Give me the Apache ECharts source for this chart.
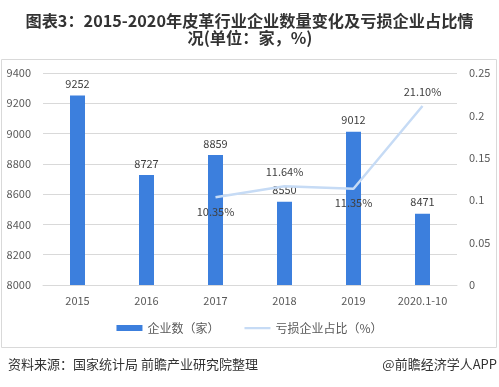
<!DOCTYPE html>
<html><head><meta charset="utf-8">
<script src="https://cdn.jsdelivr.net/npm/echarts@6/dist/echarts.min.js"></script>
<style>html,body{margin:0;padding:0;background:#fff;}#c{width:499px;height:387px;}</style>
</head><body><div id="c"></div>
<script>
const categories = ['2015','2016','2017','2018','2019','2020.1-10'];
const companyCount = [9252, 8727, 8859, 8550, 9012, 8471];
const lossShare = [null, null, 0.1035, 0.1164, 0.1135, 0.2110];
const lossLabels = ['', '', '10.35%', '11.64%', '11.35%', '21.10%'];
const lossLabelPos = ['bottom','bottom','bottom','top','bottom','top'];
const leftTicks = {min: 8000, max: 9400, interval: 200};
const rightTicks = {min: 0, max: 0.25, interval: 0.05};

const chart = echarts.init(document.getElementById('c'));
const font = '"Microsoft YaHei","Noto Sans CJK SC",sans-serif';
chart.setOption({
  animation: false,
  graphic: [
    {type: 'text', x: 249.5, y: 13, style: {text: '图表3：2015-2020年皮革行业企业数量变化及亏损企业占比情', textAlign: 'center', fill: '#333', font: 'bold 16.2px ' + font}},
    {type: 'text', x: 250, y: 30, style: {text: '况(单位：家，%)', textAlign: 'center', fill: '#333', font: 'bold 16.2px ' + font}},
    {type: 'rect', shape: {x: 1.5, y: 59.5, width: 495, height: 288}, style: {fill: 'none', stroke: '#d9d9d9', lineWidth: 1}},
    {type: 'text', left: 8, top: 358, style: {text: '资料来源：国家统计局 前瞻产业研究院整理', fill: '#333', font: '13px ' + font}},
    {type: 'text', right: 2, top: 358, style: {text: '@前瞻经济学人APP', fill: '#333', font: '13px ' + font}}
  ],
  grid: {left: 43, right: 42, top: 73, bottom: 102},
  legend: {
    bottom: 48, left: 'center', itemGap: 25,
    textStyle: {fontSize: 12, color: '#595959', fontFamily: font},
    data: [
      {name: '企业数（家）', icon: 'rect', itemStyle: {color: '#3c7fdd'}},
      {name: '亏损企业占比（%）', icon: 'path://M0,0H26V0.01H0ZM0,2H26V4.2H0ZM0,6H26V5.99H0Z', itemStyle: {color: '#c6dbf5'}}
    ],
    itemWidth: 26, itemHeight: 6
  },
  xAxis: {
    type: 'category', data: categories,
    axisLine: {lineStyle: {color: '#d9d9d9'}},
    axisTick: {show: false},
    axisLabel: {color: '#595959', fontSize: 11, margin: 10, fontFamily: font}
  },
  yAxis: [
    {type: 'value', min: leftTicks.min, max: leftTicks.max, interval: leftTicks.interval,
     axisLabel: {color: '#595959', fontSize: 11, fontFamily: font, margin: 12, formatter: v => String(v)},
     splitLine: {lineStyle: {color: '#d9d9d9'}}, axisLine: {show: false}, axisTick: {show: false}},
    {type: 'value', min: rightTicks.min, max: rightTicks.max, interval: rightTicks.interval,
     axisLabel: {color: '#595959', fontSize: 11, fontFamily: font, margin: 12, formatter: v => String(v)},
     splitLine: {show: false}, axisLine: {show: false}, axisTick: {show: false}}
  ],
  series: [
    {name: '企业数（家）', type: 'bar', data: companyCount, barWidth: 15,
     itemStyle: {color: '#3c7fdd'},
     label: {show: true, position: 'top', color: '#404040', fontSize: 11, distance: 6, fontFamily: font}},
    {name: '亏损企业占比（%）', type: 'line', yAxisIndex: 1,
     data: lossShare.map((v, i) => ({value: v, label: {position: lossLabelPos[i]}})),
     symbol: 'circle', symbolSize: 0, showSymbol: true,
     lineStyle: {color: '#c6dbf5', width: 2.5}, itemStyle: {color: '#c6dbf5'},
     label: {show: true, color: '#404040', fontSize: 11, distance: 9, fontFamily: font,
       formatter: p => lossLabels[p.dataIndex]}}
  ]
});
</script></body></html>
